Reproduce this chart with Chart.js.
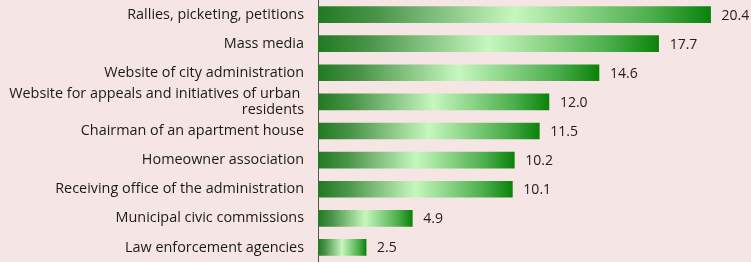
<!DOCTYPE html>
<html>
<head>
<meta charset="utf-8">
<script src="https://cdn.jsdelivr.net/npm/chart.js@4/dist/chart.umd.min.js"></script>
<style>
  html, body { margin: 0; padding: 0; background: #f6e5e5; }
  #wrap { width: 751px; height: 262px; }
</style>
</head>
<body>
<div id="wrap"><canvas id="chart" width="751" height="262"></canvas></div>
<script>
"use strict";

var categories = [
  "Rallies, picketing, petitions",
  "Mass media",
  "Website of city administration",
  ["Website for appeals and initiatives of urban ", "residents"],
  "Chairman of an apartment house",
  "Homeowner association",
  "Receiving office of the administration",
  "Municipal civic commissions",
  "Law enforcement agencies"
];
var values = [20.4, 17.7, 14.6, 12.0, 11.5, 10.2, 10.1, 4.9, 2.5];

function barGradient(context) {
  var chart = context.chart;
  var xScale = chart.scales && chart.scales.x;
  if (!chart.chartArea || !xScale || context.dataIndex === undefined) return "#3a9a3a";
  var x0 = xScale.getPixelForValue(0);
  var x1 = xScale.getPixelForValue(values[context.dataIndex]);
  if (!isFinite(x0) || !isFinite(x1) || x1 - x0 < 1) return "#3a9a3a";
  var g = chart.ctx.createLinearGradient(x0, 0, x1, 0);
  g.addColorStop(0, "#217a21");
  g.addColorStop(0.15, "#4a944a");
  g.addColorStop(0.5, "#c6f7be");
  g.addColorStop(0.85, "#4cae4c");
  g.addColorStop(1, "#0a830a");
  return g;
}

// value labels at the end of each bar
var valueLabels = {
  id: "valueLabels",
  afterDatasetsDraw: function(chart) {
    var ctx = chart.ctx;
    var meta = chart.getDatasetMeta(0);
    ctx.save();
    ctx.fillStyle = "#222";
    ctx.font = "14px 'Open Sans'";
    ctx.textAlign = "left";
    ctx.textBaseline = "middle";
    meta.data.forEach(function(bar, i) {
      ctx.fillText(values[i].toFixed(1), bar.x + 11, bar.y + 1);
    });
    ctx.restore();
  }
};

var chart = new Chart(document.getElementById("chart"), {
  type: "bar",
  data: {
    labels: categories,
    datasets: [{
      data: values,
      backgroundColor: barGradient,
      borderWidth: 0,
      barThickness: 16
    }]
  },
  options: {
    indexAxis: "y",
    responsive: false,
    animation: false,
    layout: { padding: 0 },
    plugins: {
      legend: { display: false },
      tooltip: { enabled: false }
    },
    scales: {
      x: {
        display: false,
        min: 0,
        max: 22.5
      },
      y: {
        afterFit: function(scale) {
          scale.width = 318;
          scale.paddingTop = 0;
          scale.paddingBottom = 0;
        },
        grid: { display: false, drawTicks: false },
        border: { display: true, color: "#555", width: 1 },
        ticks: {
          autoSkip: false,
          padding: 14,
          color: "#1a1a1a",
          font: { family: "'Open Sans'", size: 14.4, lineHeight: 1.05 }
        }
      }
    }
  },
  plugins: [valueLabels]
});
</script>
</body>
</html>
